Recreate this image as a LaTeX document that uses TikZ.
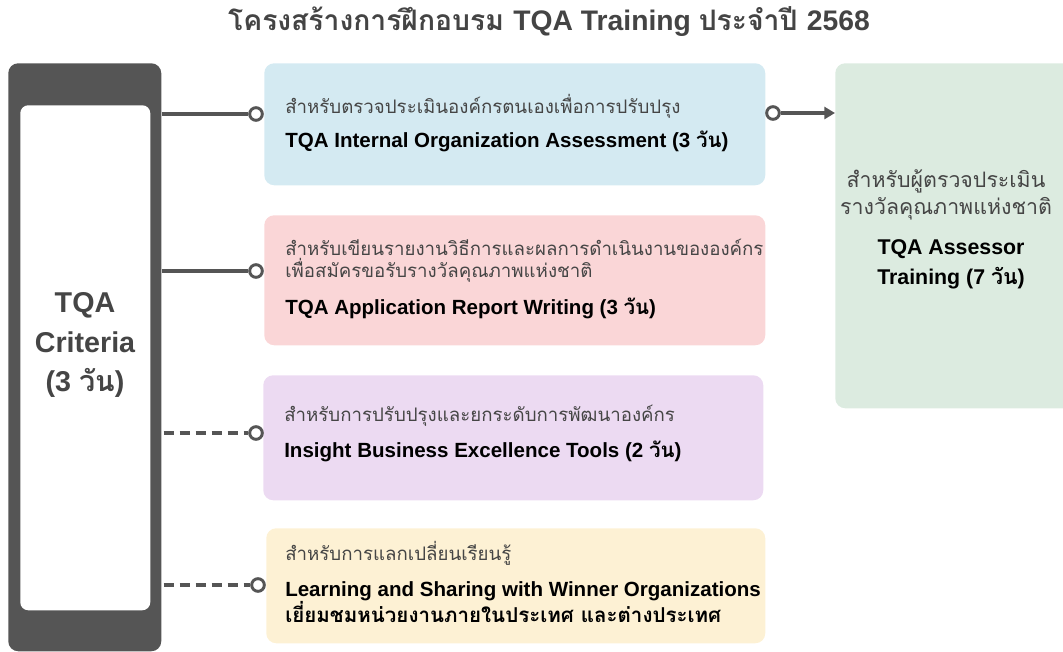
\documentclass[tikz,border=0pt]{standalone}
\usepackage{fontspec}
\setmainfont{Liberation Sans}
\newfontfamily\thai[Script=Thai]{Loma}
\usetikzlibrary{arrows.meta}
\begin{document}
\definecolor{frameg}{HTML}{555555}
\definecolor{lineg}{HTML}{555555}
\definecolor{thg}{HTML}{454545}
\definecolor{bluef}{HTML}{D4EAF2}
\definecolor{pinkf}{HTML}{FAD6D7}
\definecolor{purf}{HTML}{ECDAF2}
\definecolor{yelf}{HTML}{FDF1D4}
\definecolor{grnf}{HTML}{DCEBE0}
\definecolor{titleg}{HTML}{444444}
\tikzset{
  card/.style={draw=none, rounded corners=7.5pt, anchor=north west, inner sep=0pt},
  thline/.style={anchor=west, inner sep=0pt, text=thg, font=\thai\fontsize{14}{16.5}\selectfont, align=left},
  boldline/.style={anchor=west, inner sep=0pt, text=black, font=\bfseries\fontsize{15.4}{19.5}\selectfont, align=left},
  dot/.style={circle, draw=lineg, fill=white, line width=2.2pt, minimum size=9.5pt, inner sep=0pt},
  conn/.style={draw=lineg, line width=2.4pt},
  dconn/.style={draw=lineg, line width=2.4pt, dash pattern=on 7.5pt off 4.5pt},
}
\begin{tikzpicture}[x=0.75pt,y=-0.75pt]
\useasboundingbox (0,0) rectangle (1063,651);
% title
\node[anchor=center, inner sep=0pt, text=titleg, font=\bfseries\fontsize{21.2}{24}\selectfont] (title) at (549,22)
  {\thai โครงสร้างการฝึกอบรม \rmfamily TQA Training \thai ประจำปี \rmfamily 2568};
% left frame
\node[card, fill=frameg, rounded corners=7.5pt, minimum width=153*0.75pt, minimum height=588*0.75pt] (frame) at (8,63) {};
\node[card, fill=white, rounded corners=6pt, minimum width=130*0.75pt, minimum height=505*0.75pt] (inner) at (20,105) {};
\node[anchor=center, inner sep=0pt, text=thg, align=center, font=\bfseries\fontsize{21.5}{29.5}\selectfont] (crit) at (85,345)
  {TQA\\Criteria\\(3 {\thai วัน})};
% cards
\node[card, fill=bluef, minimum width=501*0.75pt, minimum height=122*0.75pt] (blue) at (264,63) {};
\node[card, fill=pinkf, minimum width=501*0.75pt, minimum height=130*0.75pt] (pink) at (264,215) {};
\node[card, fill=purf, minimum width=500*0.75pt, minimum height=125*0.75pt] (pur) at (263,375) {};
\node[card, fill=yelf, minimum width=499*0.75pt, minimum height=115*0.75pt] (yel) at (266,528) {};
\node[card, fill=grnf, minimum width=240*0.75pt, minimum height=345*0.75pt] (grn) at (835,63) {};
% texts
\node[thline] (t1a) at (285,106) {สำหรับตรวจประเมินองค์กรตนเองเพื่อการปรับปรุง};
\node[boldline] (t1b) at (285,141) {TQA Internal Organization Assessment (3 {\thai วัน})};
\node[thline] (t2a) at (285,261) {สำหรับเขียนรายงานวิธีการและผลการดำเนินงานขององค์กร\\เพื่อสมัครขอรับรางวัลคุณภาพแห่งชาติ};
\node[boldline] (t2b) at (285,308) {TQA Application Report Writing (3 {\thai วัน})};
\node[thline] (t3a) at (284,416) {สำหรับการปรับปรุงและยกระดับการพัฒนาองค์กร};
\node[boldline] (t3b) at (284,451) {Insight Business Excellence Tools (2 {\thai วัน})};
\node[thline] (t4a) at (285,553) {สำหรับการแลกเปลี่ยนเรียนรู้};
\node[boldline] (t4b) at (285,602) {Learning and Sharing with Winner Organizations\\{\thai เยี่ยมชมหน่วยงานภายในประเทศ และต่างประเทศ}};
\node[thline, anchor=center, align=center, font=\thai\fontsize{16}{20.5}\selectfont] (t5a) at (946,195) {สำหรับผู้ตรวจประเมิน\\รางวัลคุณภาพแห่งชาติ};
\node[boldline, anchor=center, align=center, font=\bfseries\fontsize{16}{22.5}\selectfont] (t5b) at (951,264) {TQA Assessor\\Training (7 {\thai วัน})};
% dots
\node[dot] (d1) at (256,114) {};
\node[dot] (d2) at (256,271) {};
\node[dot] (d3) at (256,433) {};
\node[dot] (d4) at (258,585) {};
\node[dot] (d5) at (773,113) {};
% connectors
\draw[conn] (frame.east |- d1) -- (d1.west);
\draw[conn] (frame.east |- d2) -- (d2.west);
\draw[dconn] ([xshift=1.5pt]frame.east |- d3) -- (d3.west);
\draw[dconn] ([xshift=1.5pt]frame.east |- d4) -- (d4.west);
\draw[conn, -{Triangle[length=8pt,width=9pt]}] (d5.east) -- (grn.west |- d5);
\end{tikzpicture}
\end{document}
